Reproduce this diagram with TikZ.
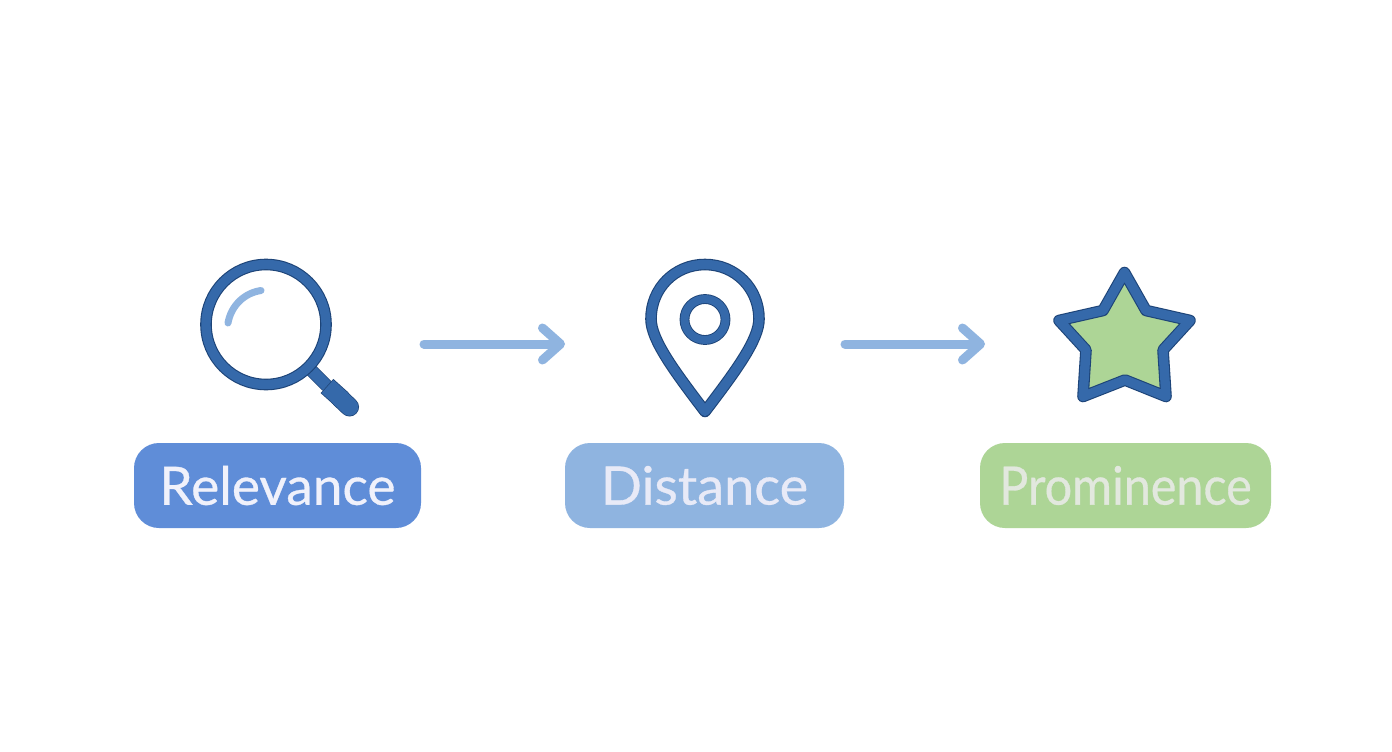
\documentclass[tikz,border=0pt]{standalone}
\usepackage{fontspec}
\setmainfont{Lato}
\newfontface\labelA[FakeBold=0.6,FakeStretch=1.005]{Lato}
\newfontface\labelB[FakeBold=0.6,FakeStretch=1.02]{Lato}
\newfontface\labelC[FakeBold=0.6,FakeStretch=0.915]{Lato}
\usetikzlibrary{arrows.meta}
\definecolor{iconblue}{HTML}{3569AA}
\definecolor{icondark}{HTML}{1D4478}
\definecolor{softblue}{HTML}{8FB4E0}
\definecolor{midblue}{HTML}{5F8DD8}
\definecolor{softgreen}{HTML}{ADD596}
\definecolor{txtA}{HTML}{F0F1FB}
\definecolor{txtB}{HTML}{E8EAF7}
\definecolor{txtC}{HTML}{E2E8DE}
\tikzset{
  x=1pt,y=-1pt,
  pill/.style={rounded corners=25pt,minimum height=85pt,inner sep=0pt,anchor=center},
  flowarrow/.style={draw=softblue,line width=9pt,line cap=round,line join=round,-{Straight Barb[length=18pt,width=32pt,round]}},
  outlineA/.style={draw=icondark,line width=11.6pt,line join=round,line cap=round},
  outlineB/.style={draw=iconblue,line width=9.4pt,line join=round,line cap=round},
  iconbox/.style={inner sep=0pt,draw=none},
}
\begin{document}
\begin{tikzpicture}
\useasboundingbox[fill=white] (0,0) rectangle (1392,752);
% icon anchors
\node[iconbox] (magnifier) at (266,324.5) {};
% magnifier
\draw[line width=7pt,line cap=round,softblue] (261,290.5) .. controls (244,293) and (231,306) .. (228,323);
\draw[icondark,line width=13pt] (306,365) -- (327,386);
\draw[iconblue,line width=11.5pt] (306,365) -- (327,386);
\draw[icondark,line width=19pt] (327,386) -- (342,399.5);
\draw[icondark,line width=19pt,line cap=round] (340,398) -- (349.5,407);
\draw[iconblue,line width=17.5pt] (327.5,386.5) -- (342,399.5);
\draw[iconblue,line width=17.5pt,line cap=round] (340,398) -- (349.5,407);
\draw[outlineA] (magnifier) circle[radius=60];
\draw[outlineB] (magnifier) circle[radius=60];
% pin
\def\pinpath{(705,264.5) .. controls (735,264.5) and (759,288) .. (759,319) .. controls (759,340) and (735,372) .. (705,411.5) .. controls (675,372) and (651,340) .. (651,319) .. controls (651,288) and (675,264.5) .. (705,264.5) -- cycle}
\draw[outlineA] \pinpath;
\draw[outlineB] \pinpath;
\draw[icondark,line width=9.8pt] (705,319.5) circle[radius=20.5];
\draw[iconblue,line width=8pt] (705,319.5) circle[radius=20.5];
% star
\def\starpath{(1124.5,272.5) -- (1146,310.5) -- (1190,320.5) -- (1163,350) -- (1166,396.5) -- (1125,380) -- (1083,396.5) -- (1086,350) -- (1059,320.5) -- (1103,310.5) -- cycle}
\draw[outlineA,fill=softgreen] \starpath;
\draw[outlineB] \starpath;
% pills
\node[pill,fill=midblue,text=txtA,minimum width=287pt,font=\labelA\fontsize{53}{53}\selectfont] (relevance) at (277.5,485.5) {Relevance};
\node[pill,fill=softblue,text=txtB,minimum width=279pt,font=\labelB\fontsize{53}{53}\selectfont] (distance) at (704.5,485.5) {Distance};
\node[pill,fill=softgreen,text=txtC,minimum width=291pt,font=\labelC\fontsize{53}{53}\selectfont] (prominence) at (1125.5,485.5) {Prominence};
% connectors
\coordinate (a1s) at (424,344);
\coordinate (a1e) at (565,344);
\coordinate (a2s) at (845,344);
\coordinate (a2e) at (985,344);
\draw[flowarrow] (a1s) -- (a1e);
\draw[flowarrow] (a2s) -- (a2e);
\end{tikzpicture}
\end{document}
